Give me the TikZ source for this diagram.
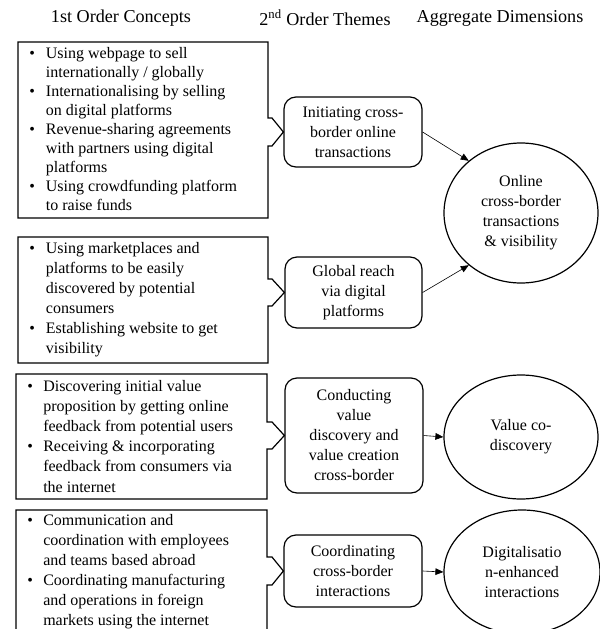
\documentclass[tikz,border=0pt]{standalone}
\usepackage{fontspec}
\setmainfont{Liberation Serif}
\usetikzlibrary{arrows.meta,shapes.geometric}
\begin{document}
\begin{tikzpicture}[x=0.75pt,y=-0.75pt,
  conc/.style={draw, line width=0.9pt},
  ctext/.style={inner sep=0pt, anchor=base west},
  theme/.style={draw, line width=0.9pt, rounded corners=9pt, align=center, inner sep=0pt, font=\fontsize{12}{15}\selectfont},
  dimen/.style={draw, ellipse, line width=0.9pt, align=center, inner sep=0pt, font=\fontsize{12}{15}\selectfont},
  conn/.style={-{Triangle[length=6pt,width=5pt]}, line width=0.45pt},
  hdr/.style={font=\fontsize{13.6}{16}\selectfont, inner sep=0pt}]
\useasboundingbox (0,0) rectangle (600,629);
\clip (0,0) rectangle (600,629);

% headers
\node[hdr] (h1) at (121,18) {1st Order Concepts};
\node[hdr] (h2) at (325,18) {2\textsuperscript{nd} Order Themes};
\node[hdr] (h3) at (500,18) {Aggregate Dimensions};

% second order themes
\node[theme, minimum width=103.5pt, minimum height=52.5pt] (r1) at (353,132) {Initiating cross-\\border online\\transactions};
\node[theme, minimum width=102.75pt, minimum height=53.25pt] (r2) at (353.5,292.5) {Global reach\\via digital\\platforms};
\node[theme, minimum width=103.5pt, minimum height=86.25pt] (r3) at (354,435.5) {Conducting\\value\\discovery and\\value creation\\cross-border};
\node[theme, minimum width=103.5pt, minimum height=54pt] (r4) at (353,571) {Coordinating\\cross-border\\interactions};

% aggregate dimensions
\node[dimen, minimum width=115.5pt, minimum height=105pt] (e1) at (521,213) {Online\\cross-border\\transactions\\\& visibility};
\node[dimen, minimum width=115.5pt, minimum height=93pt] (e2) at (521,437) {Value co-\\discovery};
\node[dimen, minimum width=117pt, minimum height=93pt] (e3) at (522,572) {Digitalisatio\\n-enhanced\\interactions};

% concept boxes with arrow notches
\draw[conc] (18,42) -| (268,118) -- (272,118) -- (r1.west) -- (272,146) -- (268,146) |- (18,218) -- cycle;
\draw[conc] (18,237) -| (268,279) -- (272,279) -- (r2.west) -- (272,306) -- (268,306) |- (18,363) -- cycle;
\draw[conc] (16,374) -| (267,422) -- (272,422) -- (r3.west) -- (272,449) -- (267,449) |- (16,499) -- cycle;
\draw[conc] (16,510) -| (267,557) -- (272,557) -- (r4.west) -- (272,585) -- (267,585) |- (16,645) -- cycle;

% concept texts
\node[ctext, font=\fontsize{12}{14.25}\selectfont] (t1) at (29,58) {%
\begin{tabular}[t]{@{}p{12.5pt}@{}l@{}}
\textbullet & Using webpage to sell\\
 & internationally / globally\\
\textbullet & Internationalising by selling\\
 & on digital platforms\\
\textbullet & Revenue-sharing agreements\\
 & with partners using digital\\
 & platforms\\
\textbullet & Using crowdfunding platform\\
 & to raise funds
\end{tabular}};
\node[ctext, font=\fontsize{12}{15}\selectfont] (t2) at (29,253) {%
\begin{tabular}[t]{@{}p{12.5pt}@{}l@{}}
\textbullet & Using marketplaces and\\
 & platforms to be easily\\
 & discovered by potential\\
 & consumers\\
\textbullet & Establishing website to get\\
 & visibility
\end{tabular}};
\node[ctext, font=\fontsize{12}{15.15}\selectfont] (t3) at (27,391) {%
\begin{tabular}[t]{@{}p{12pt}@{}l@{}}
\textbullet & Discovering initial value\\
 & proposition by getting online\\
 & feedback from potential users\\
\textbullet & Receiving \& incorporating\\
 & feedback from consumers via\\
 & the internet
\end{tabular}};
\node[ctext, font=\fontsize{12}{15}\selectfont] (t4) at (27,525) {%
\begin{tabular}[t]{@{}p{12pt}@{}l@{}}
\textbullet & Communication and\\
 & coordination with employees\\
 & and teams based abroad\\
\textbullet & Coordinating manufacturing\\
 & and operations in foreign\\
 & markets using the internet
\end{tabular}};

% connectors
\draw[conn] (r1.east) -- (e1.135);
\draw[conn] (r2.east) -- (e1.225);
\draw[conn] (r3.east) -- (e2.west);
\draw[conn] (r4.east) -- (e3.west);
\end{tikzpicture}
\end{document}
